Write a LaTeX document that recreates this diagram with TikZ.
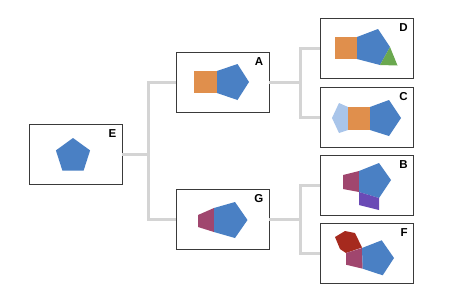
\documentclass[tikz,border=0pt]{standalone}
\usepackage{fontspec}
\setmainfont{Liberation Sans}
\usetikzlibrary{calc}
\definecolor{pblue}{HTML}{4A80C4}
\definecolor{porange}{HTML}{E08F4C}
\definecolor{plight}{HTML}{A9C5EA}
\definecolor{pgreen}{HTML}{6AA84F}
\definecolor{pmag}{HTML}{A0466E}
\definecolor{ppurple}{HTML}{6A4AB5}
\definecolor{pred}{HTML}{A62A1E}
\definecolor{conncol}{HTML}{D4D4D4}
\definecolor{boxcol}{HTML}{3A3A3A}
\begin{document}
\begin{tikzpicture}[x=1pt,y=-1pt,
  panel/.style={draw=boxcol,line width=0.8pt,fill=white,minimum width=93pt,minimum height=60pt,inner sep=0pt},
  lbl/.style={font=\fontsize{11.5}{13}\selectfont\bfseries,inner sep=0pt,anchor=north east},
  conn/.style={draw=conncol,line width=3pt,line join=miter}]
\useasboundingbox (0,0) rectangle (450,298);
\fill[white] (0,0) rectangle (450,298);
% connectors
\coordinate (jE) at (148,154);
\coordinate (jA) at (300,82);
\coordinate (jG) at (300,219);
% panels
\node[panel] (E) at (75.5,154) {};
\node[panel] (A) at (222.5,82) {};
\node[panel] (G) at (222.5,219) {};
\node[panel] (D) at (367,48) {};
\node[panel] (C) at (367,117) {};
\node[panel] (B) at (367,185) {};
\node[panel] (F) at (367,253.5) {};
\draw[conn] (E.east) -- (jE);
\draw[conn] (A.west) -| (jE) |- (G.west);
\draw[conn] (A.east) -- (jA);
\draw[conn] (D.west) -| (jA) |- (C.west);
\draw[conn] (G.east) -- (jG);
\draw[conn] (B.west) -| (jG) |- (F.west);
% labels
\node[lbl] (lE) at ($(E.north east)+(-6,6)$) {E};
\node[lbl] (lA) at ($(A.north east)+(-6,5.5)$) {A};
\node[lbl] (lG) at ($(G.north east)+(-6,5.5)$) {G};
\node[lbl] (lD) at ($(D.north east)+(-6,5.5)$) {D};
\node[lbl] (lC) at ($(C.north east)+(-6,5.5)$) {C};
\node[lbl] (lB) at ($(B.north east)+(-6,5.5)$) {B};
\node[lbl] (lF) at ($(F.north east)+(-6,5.5)$) {F};
% E
\fill[pblue] (73,138) -- (55.9,150.4) -- (62.4,170.6) -- (83.6,170.6) -- (90.1,150.4) -- cycle;
% A
\fill[porange] (194,71) rectangle (217,93);
\fill[pblue] (217,71) -- (237.5,64) -- (249,82) -- (237.5,100) -- (217,93) -- cycle;
% G
\fill[pmag] (198,215) -- (214,208) -- (214,232) -- (198,227) -- cycle;
\fill[pblue] (214,208) -- (235,202) -- (247.5,220) -- (235,238) -- (214,232) -- cycle;
% D
\fill[porange] (335,37) rectangle (357,59);
\fill[pblue] (357,37) -- (378,29) -- (390,47) -- (380,65) -- (357,59) -- cycle;
\fill[pgreen] (390,47) -- (380,65) -- (397.5,65.5) -- cycle;
% C
\fill[plight] (348,107) -- (339,103) -- (332,118) -- (339,133) -- (348,130) -- cycle;
\fill[porange] (348,107) rectangle (370,130);
\fill[pblue] (370,107) -- (389,100) -- (401,118) -- (389,136) -- (370,130) -- cycle;
% B
\fill[pmag] (343,175) -- (359,171) -- (359,192) -- (343,189) -- cycle;
\fill[pblue] (359,171) -- (379,163) -- (391,180) -- (379,198) -- (359,192) -- cycle;
\fill[ppurple] (359,192) -- (379,198) -- (379,210) -- (359,205) -- cycle;
% F
\fill[pred] (335,237) -- (345,231) -- (355,233) -- (362,247.5) -- (346,253) -- (340,249) -- cycle;
\fill[pmag] (346,253) -- (362,248) -- (362.7,268.7) -- (346,264.7) -- cycle;
\fill[pblue] (362,248) -- (381.7,240.3) -- (394,258) -- (382.7,275.3) -- (362.7,268.7) -- cycle;
\end{tikzpicture}
\end{document}
